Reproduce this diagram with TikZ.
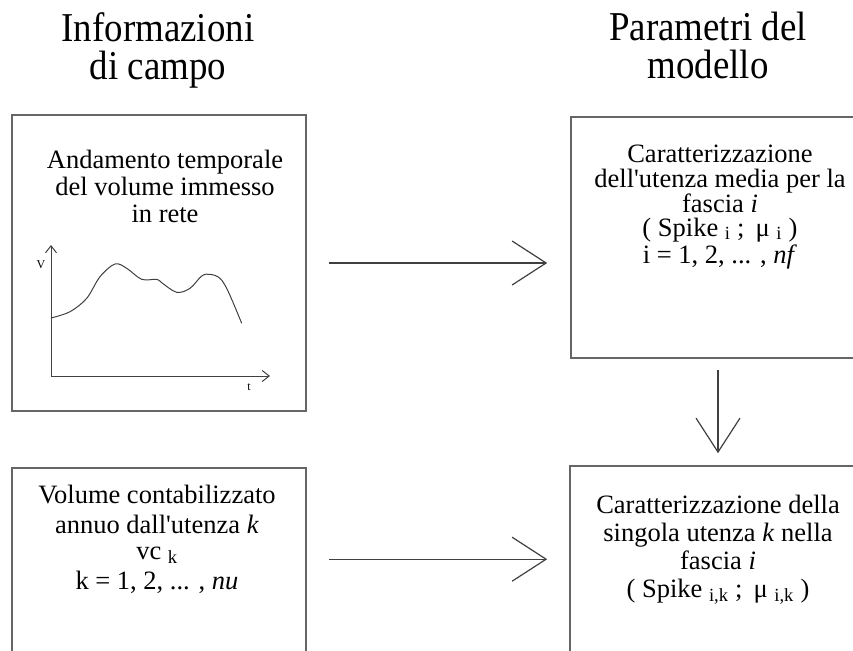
\documentclass[tikz,border=0pt]{standalone}
\usepackage{fontspec}
\setmainfont{Liberation Serif}
\newfontfamily\headfont[FakeStretch=0.9]{Liberation Serif}
\usetikzlibrary{arrows.meta}
\usetikzlibrary{positioning}

\begin{document}
\begin{tikzpicture}[x=1pt,y=-1pt,
  box/.style={draw=black!60, line width=1.6pt, inner sep=0pt},
  boxtext/.style={align=center, inner sep=0pt, anchor=north, font=\fontsize{26.5}{#1}\selectfont},
  boxtext/.default=27,
  headtext/.style={align=center, inner sep=0pt, anchor=north, font=\headfont\fontsize{41}{38}\selectfont},
  bigarrow/.style={draw=black!75, line width=1.2pt, -{Straight Barb[length=34pt,width=44pt,line width=1.2pt]}},
  axis/.style={draw=black!75, line width=1pt, -{Straight Barb[length=7pt,width=11pt,line width=1pt]}}]
\clip (0,0) rectangle (853,650);
\node[headtext] (info) at (158,12) {Informazioni\\di campo};
\node[headtext] (param) at (708,12) {Parametri del\\modello};
\node[box, minimum width=294pt, minimum height=296pt] (andamento) at (159,263) {};
\node[box, minimum width=294pt, minimum height=240pt] (volume) at (159,588) {};
\node[box, minimum width=320pt, minimum height=241pt] (media) at (731,237.5) {};
\node[box, minimum width=320pt, minimum height=240pt] (singola) at (730,586) {};
\node[boxtext] (andtext) at (165,150) {Andamento temporale\\del volume immesso\\in rete};
\node[boxtext=25] (medtext) at (720,144.5) {Caratterizzazione\\dell\textquotesingle utenza media per la\\fascia \textit{i}\\[-1pt]( Spike \textsubscript{i} ;\, μ \textsubscript{i} )\\[2pt]i = 1, 2, ... , \textit{nf}};
\node[boxtext] (voltext) at (157,484.5) {Volume contabilizzato\\[3pt]annuo dall\textquotesingle utenza \textit{k}\\[-1pt]vc \textsubscript{k}\\[3pt]k = 1, 2, ... , \textit{nu}};
\node[boxtext=28] (singtext) at (718,494.5) {Caratterizzazione della\\singola utenza \textit{k} nella\\fascia \textit{i}\\( Spike \textsubscript{i,k} ;\, μ \textsubscript{i,k} )};
\draw[bigarrow, shorten <=22pt, shorten >=23pt] (andamento.east) -- (andamento.east -| media.west);
\coordinate (vc) at ([yshift=-92pt]volume.north east);
\draw[bigarrow, shorten <=22pt, shorten >=22pt] (vc) -- (vc -| singola.west);
\coordinate (mid) at (718,0);
\draw[bigarrow, shorten <=11pt, shorten >=12pt] (media.south -| mid) -- (singola.north -| mid);
\coordinate (O) at (51,376);
\draw[axis] (O) -- (51,245);
\draw[axis] (O) -- (270,376);
\node[font=\fontsize{12}{12}\selectfont] (vlab) at (41,265) {V};
\node[font=\fontsize{12}{12}\selectfont] (tlab) at (249,387) {t};
\draw[black!75, line width=1pt] plot[smooth, tension=0.55] coordinates {(51,318) (70,311.7) (86.7,298.3) (100,276.7) (115,264) (126.7,268.3) (141.7,279.3) (156.7,279.3) (161.7,282.7) (176.7,292.3) (190,288.3) (201.7,276) (210,274.3) (220,278.3) (228.3,291.7) (241.7,323.3)};
\end{tikzpicture}
\end{document}
